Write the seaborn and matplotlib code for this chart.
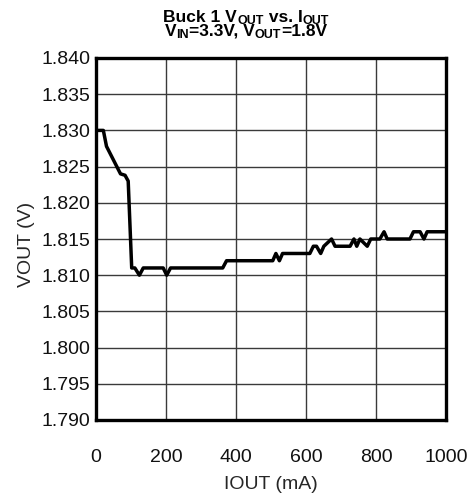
import matplotlib
matplotlib.use("Agg")
import matplotlib.pyplot as plt
import seaborn as sns
import pandas as pd
from matplotlib.ticker import FormatStrFormatter

iout_ma = [0, 21, 30, 70, 83, 92, 102, 111, 124, 135, 192, 202, 213, 362, 373,
           505, 514, 524, 533, 611, 621, 630, 642, 651, 673, 683, 726, 737, 745,
           754, 775, 785, 811, 823, 832, 897, 907, 926, 937, 946, 1000]
vout_v = [1.830, 1.830, 1.8278, 1.824, 1.8238, 1.823, 1.811, 1.811, 1.810, 1.811,
          1.811, 1.810, 1.811, 1.811, 1.812, 1.812, 1.813, 1.812, 1.813, 1.813,
          1.814, 1.814, 1.813, 1.814, 1.815, 1.814, 1.814, 1.815, 1.814, 1.815,
          1.814, 1.815, 1.815, 1.816, 1.815, 1.815, 1.816, 1.816, 1.815, 1.816,
          1.816]

x_ticks = [0, 200, 400, 600, 800, 1000]
y_ticks = [1.790, 1.795, 1.800, 1.805, 1.810, 1.815, 1.820, 1.825, 1.830, 1.835, 1.840]

title_line1 = [("Buck 1 V", False), ("OUT", True), (" vs. I", False), ("OUT", True)]
title_line2 = [("V", False), ("IN", True), ("=3.3V, V", False), ("OUT", True), ("=1.8V", False)]

sns.set_theme(style="white")
plt.rcParams['font.family'] = ['Liberation Sans', 'DejaVu Sans']

df = pd.DataFrame({"IOUT": iout_ma, "VOUT": vout_v})

W, H = 472, 493
fig = plt.figure(figsize=(W / 100, H / 100), dpi=100)
ax = fig.add_axes([96 / W, 1 - 420 / H, 350 / W, 362 / H])
sns.lineplot(data=df, x="IOUT", y="VOUT", ax=ax, color="black", linewidth=2.5,
             estimator=None, sort=False, zorder=3)

ax.set_xlim(0, 1000)
ax.set_ylim(1.790, 1.840)
ax.set_xticks(x_ticks)
ax.set_yticks(y_ticks)
ax.yaxis.set_major_formatter(FormatStrFormatter('%.3f'))
ax.grid(True, color="#3a3a3a", linewidth=1.0)
for s in ax.spines.values():
    s.set_visible(True)
    s.set_color("black")
    s.set_linewidth(2.4)
ax.tick_params(axis='both', length=0, labelsize=14, colors="#111111")
ax.tick_params(axis='x', pad=21)
ax.tick_params(axis='y', pad=4)
ax.set_xlabel("IOUT (mA)", fontsize=14, labelpad=7)
ax.set_ylabel("VOUT (V)", fontsize=14)
ax.yaxis.set_label_coords(-(96 - 35) / 350, 0.485)

# Rich-text title with subscripts
renderer = fig.canvas.get_renderer()


def rich_line(parts, y_px, cx_px, size=12.5, sub_size=9, sub_drop=2.5):
    texts = []
    for s, is_sub in parts:
        t = fig.text(0, 0, s, fontsize=sub_size if is_sub else size,
                     fontweight="bold", va="baseline", ha="left", color="black")
        texts.append((t, is_sub))
    widths = [t.get_window_extent(renderer).width for t, _ in texts]
    x = cx_px - sum(widths) / 2
    for (t, is_sub), w in zip(texts, widths):
        yy = y_px + (sub_drop if is_sub else 0)
        t.set_position((x / W, 1 - yy / H))
        x += w


rich_line(title_line1, 22.0, 246)
rich_line(title_line2, 36.0, 246)

fig.savefig("out.png", dpi=100)
